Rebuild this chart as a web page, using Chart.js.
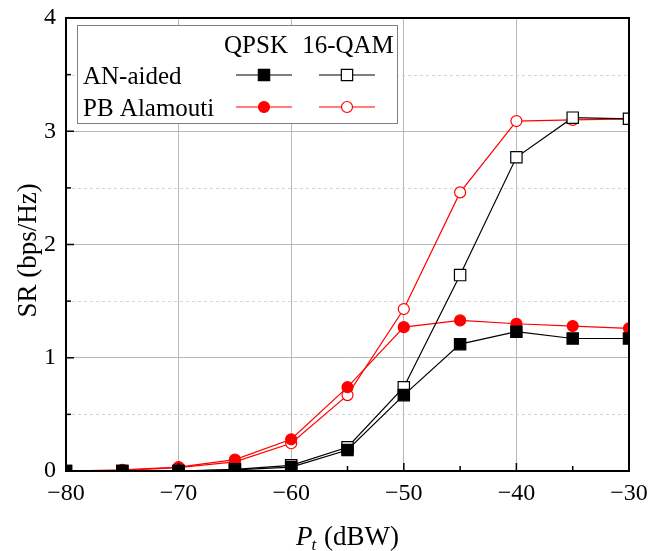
<!DOCTYPE html>
<html>
<head>
<meta charset="utf-8">
<script src="https://cdn.jsdelivr.net/npm/chart.js@4/dist/chart.umd.min.js"></script>
<style>
  html, body { margin: 0; padding: 0; background: #fff; }
  canvas { display: block; }
</style>
</head>
<body>
<canvas id="chart" width="649" height="551"></canvas>
<script>
// transmit power P_t (dBW)
const powerDbw = [-80, -75, -70, -65, -60, -55, -50, -45, -40, -35, -30];

// secrecy rate (bps/Hz)
const anQpsk  = [0, 0, 0, 0.01, 0.035, 0.185, 0.67, 1.12, 1.23, 1.17, 1.17];
const an16Qam = [0, 0, 0, 0.015, 0.05, 0.21, 0.74, 1.73, 2.77, 3.12, 3.11];
const pbQpsk  = [0, 0.01, 0.035, 0.1, 0.28, 0.74, 1.27, 1.33, 1.30, 1.28, 1.26];
const pb16Qam = [0, 0.005, 0.03, 0.08, 0.245, 0.67, 1.43, 2.46, 3.09, 3.10, 3.11];

const xTicks = [-80, -70, -60, -50, -40, -30];
const yTicks = [0, 1, 2, 3, 4];

const legendCols = ['QPSK', '16-QAM'];
const legendRows = ['AN-aided', 'PB Alamouti'];

const FONT = '"Liberation Serif", "Times New Roman", serif';
const RED = '#ff0000';

const toPoints = (ys) => powerDbw.map((x, i) => ({ x: x, y: ys[i] }));
const minus = (v) => String(v).replace('-', '\u2212');

function makeSet(label, ys, color, style, filled) {
  return {
    label: label,
    data: toPoints(ys),
    borderColor: color,
    backgroundColor: color,
    borderWidth: 1.2,
    pointStyle: style,
    pointRadius: style === 'rect' ? 8 : 5.5,
    pointBorderWidth: 1.2,
    pointBorderColor: color,
    pointBackgroundColor: filled ? color : '#ffffff',
    tension: 0,
    clip: 0
  };
}

// no extra label padding, the layout padding places the plot box
function fixPadding(s) {
  s.paddingTop = 0;
  s.paddingBottom = 0;
  s.paddingLeft = 0;
  s.paddingRight = 0;
}

// little marker painter for the legend table
function drawMarker(ctx, ds, x, y) {
  ctx.save();
  ctx.strokeStyle = ds.borderColor;
  ctx.lineWidth = ds.borderWidth;
  ctx.beginPath();
  ctx.moveTo(x - 28, y);
  ctx.lineTo(x + 28, y);
  ctx.stroke();
  ctx.fillStyle = ds.pointBackgroundColor;
  ctx.lineWidth = ds.pointBorderWidth;
  ctx.beginPath();
  if (ds.pointStyle === 'rect') {
    const s = ds.pointRadius * Math.SQRT1_2;
    ctx.rect(x - s, y - s, 2 * s, 2 * s);
  } else {
    ctx.arc(x, y, ds.pointRadius, 0, Math.PI * 2);
  }
  ctx.fill();
  ctx.stroke();
  ctx.restore();
}

const decorPlugin = {
  id: 'decor',
  beforeDatasetsDraw(chart) {
    const { ctx, chartArea: a, scales } = chart;
    // dashed minor grid at the half steps
    ctx.save();
    ctx.strokeStyle = '#d4d4d4';
    ctx.lineWidth = 1;
    ctx.setLineDash([3, 3]);
    for (let v = 0.5; v < 4; v += 1) {
      const y = Math.round(scales.y.getPixelForValue(v)) + 0.5;
      ctx.beginPath();
      ctx.moveTo(a.left, y);
      ctx.lineTo(a.right, y);
      ctx.stroke();
    }
    ctx.restore();
  },
  afterDatasetsDraw(chart) {
    const { ctx, chartArea: a, scales } = chart;
    ctx.save();
    ctx.strokeStyle = '#000';
    // inward ticks
    ctx.lineWidth = 1.5;
    for (let v = -75; v < -30; v += 5) {
      const x = scales.x.getPixelForValue(v);
      const len = v % 10 === 0 ? 8 : 5;
      ctx.beginPath();
      ctx.moveTo(x, a.bottom);
      ctx.lineTo(x, a.bottom - len);
      ctx.stroke();
    }
    for (let v = 0.5; v < 4; v += 0.5) {
      const y = scales.y.getPixelForValue(v);
      const len = v % 1 === 0 ? 8 : 5;
      ctx.beginPath();
      ctx.moveTo(a.left, y);
      ctx.lineTo(a.left + len, y);
      ctx.stroke();
    }
    // frame
    ctx.lineWidth = 2;
    ctx.strokeRect(a.left, a.top, a.right - a.left, a.bottom - a.top);
    ctx.restore();
  },
  afterDraw(chart) {
    const { ctx, chartArea: a } = chart;
    const sets = chart.data.datasets;
    ctx.save();

    // legend table
    ctx.fillStyle = '#fff';
    ctx.fillRect(77, 25, 321, 99);
    ctx.strokeStyle = '#808080';
    ctx.lineWidth = 1;
    ctx.strokeRect(77.5, 25.5, 320, 98);

    ctx.fillStyle = '#000';
    ctx.font = '25px ' + FONT;
    ctx.textBaseline = 'alphabetic';
    ctx.textAlign = 'center';
    ctx.fillText(legendCols[0], 256, 53);
    ctx.fillText(legendCols[1], 348, 53);
    ctx.textAlign = 'left';
    ctx.fillText(legendRows[0], 83, 84);
    ctx.fillText(legendRows[1], 83, 116);

    drawMarker(ctx, sets[0], 264, 75);
    drawMarker(ctx, sets[1], 347, 75);
    drawMarker(ctx, sets[2], 264, 107);
    drawMarker(ctx, sets[3], 347, 107);

    // x title: P_t (dBW)
    const cx = (a.left + a.right) / 2;
    ctx.font = 'italic 27px ' + FONT;
    const wP = ctx.measureText('P').width;
    ctx.font = 'italic 17px ' + FONT;
    const wt = ctx.measureText('t').width;
    ctx.font = '27px ' + FONT;
    const rest = ' (dBW)';
    const wr = ctx.measureText(rest).width;
    const x0 = cx - (wP + wt + wr) / 2;
    const by = 545;
    ctx.textAlign = 'left';
    ctx.font = 'italic 27px ' + FONT;
    ctx.fillText('P', x0, by);
    ctx.font = 'italic 17px ' + FONT;
    ctx.fillText('t', x0 + wP - 1, by + 5);
    ctx.font = '27px ' + FONT;
    ctx.fillText(rest, x0 + wP + wt, by);

    // y title
    ctx.translate(29, (a.top + a.bottom) / 2 + 6);
    ctx.rotate(-Math.PI / 2);
    ctx.textAlign = 'center';
    ctx.textBaseline = 'middle';
    ctx.font = '27px ' + FONT;
    ctx.fillText('SR (bps/Hz)', 0, 0);
    ctx.restore();
  }
};

new Chart(document.getElementById('chart'), {
  type: 'line',
  data: {
    datasets: [
      makeSet('AN-aided QPSK', anQpsk, '#000000', 'rect', true),
      makeSet('AN-aided 16-QAM', an16Qam, '#000000', 'rect', false),
      makeSet('PB Alamouti QPSK', pbQpsk, RED, 'circle', true),
      makeSet('PB Alamouti 16-QAM', pb16Qam, RED, 'circle', false)
    ]
  },
  options: {
    responsive: false,
    animation: false,
    layout: { padding: { top: 18, right: 20, left: 0, bottom: 0 } },
    plugins: {
      legend: { display: false },
      tooltip: { enabled: false }
    },
    scales: {
      x: {
        type: 'linear',
        min: -80,
        max: -30,
        afterFit: (s) => { s.height = 80; fixPadding(s); },
        afterBuildTicks: (s) => { s.ticks = xTicks.map((v) => ({ value: v })); },
        ticks: {
          font: { family: FONT, size: 24 },
          color: '#000',
          padding: 8,
          maxRotation: 0,
          callback: (v) => minus(v)
        },
        grid: { color: '#b8b8b8', lineWidth: 1, drawTicks: false },
        border: { display: false }
      },
      y: {
        min: 0,
        max: 4,
        afterFit: (s) => { s.width = 66; fixPadding(s); },
        afterBuildTicks: (s) => { s.ticks = yTicks.map((v) => ({ value: v })); },
        ticks: {
          font: { family: FONT, size: 24 },
          color: '#000',
          padding: 10,
          callback: (v) => minus(v)
        },
        grid: { color: '#b8b8b8', lineWidth: 1, drawTicks: false },
        border: { display: false }
      }
    }
  },
  plugins: [decorPlugin]
});
</script>
</body>
</html>
